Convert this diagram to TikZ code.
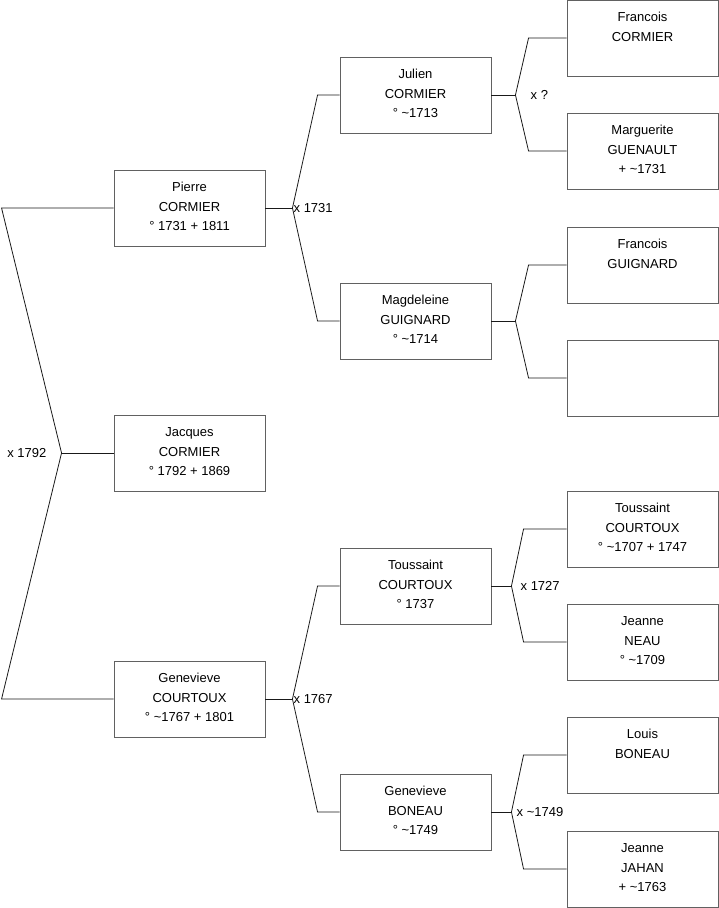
\documentclass[tikz,border=0pt]{standalone}
\usepackage{fontspec}
\setmainfont{Liberation Sans}
\usetikzlibrary{calc}

\begin{document}
\begin{tikzpicture}[
  x=1pt, y=-1pt,
  person/.style={draw=black!62, line width=0.9pt, minimum width=151pt, minimum height=76pt, inner sep=0pt,
    font=\fontsize{13}{19.5}\selectfont,
    execute at begin node={\begin{minipage}[t][60pt][t]{151pt}\centering\strut},
    execute at end node={\end{minipage}}},
  link/.style={draw=black!90, line width=0.8pt},
  union/.style={font=\fontsize{13}{15}\selectfont, inner sep=1pt}
]
\useasboundingbox (0,0) rectangle (719,908);

% generation 1
\node[person] (jacques) at (189.5,453) {Jacques\\CORMIER\\° 1792 + 1869};
% generation 2
\node[person] (pierre) at (189.5,208) {Pierre\\CORMIER\\° 1731 + 1811};
\node[person] (genevieve) at (189.5,699) {Genevieve\\COURTOUX\\° \textasciitilde1767 + 1801};
% generation 3
\node[person] (julien) at (415.5,95) {Julien\\CORMIER\\° \textasciitilde1713};
\node[person] (magdeleine) at (415.5,321) {Magdeleine\\GUIGNARD\\° \textasciitilde1714};
\node[person] (toussaint) at (415.5,586) {Toussaint\\COURTOUX\\° 1737};
\node[person] (boneau) at (415.5,812) {Genevieve\\BONEAU\\° \textasciitilde1749};
% generation 4
\node[person] (francoisC) at (642.5,38) {Francois\\CORMIER};
\node[person] (marguerite) at (642.5,151) {Marguerite\\GUENAULT\\+ \textasciitilde1731};
\node[person] (francoisG) at (642.5,265) {Francois\\GUIGNARD};
\node[person] (unknown) at (642.5,378) {};
\node[person] (toussaintC) at (642.5,529) {Toussaint\\COURTOUX\\° \textasciitilde1707 + 1747};
\node[person] (jeanneN) at (642.5,642) {Jeanne\\NEAU\\° \textasciitilde1709};
\node[person] (louis) at (642.5,755) {Louis\\BONEAU};
\node[person] (jeanneJ) at (642.5,869) {Jeanne\\JAHAN\\+ \textasciitilde1763};

% marriage joints
\coordinate (xJacques) at ($(jacques.west)+(-52,0)$);
\coordinate (xPierre) at ($(pierre.east)+(27,0)$);
\coordinate (xGenevieve) at ($(genevieve.east)+(27,0)$);
\coordinate (xJulien) at ($(julien.east)+(24,0)$);
\coordinate (xMagdeleine) at ($(magdeleine.east)+(24,0)$);
\coordinate (xToussaint) at ($(toussaint.east)+(20,0)$);
\coordinate (xBoneau) at ($(boneau.east)+(20,0)$);

\draw[link] (jacques.west) -- (xJacques);
\draw[link] (pierre.west) -- ++(-112,0) -- (xJacques);
\draw[link] (genevieve.west) -- ++(-112,0) -- (xJacques);

\draw[link] (pierre.east) -- (xPierre);
\draw[link] (julien.west) -- ++(-22,0) -- (xPierre);
\draw[link] (magdeleine.west) -- ++(-22,0) -- (xPierre);
\draw[link] (genevieve.east) -- (xGenevieve);
\draw[link] (toussaint.west) -- ++(-22,0) -- (xGenevieve);
\draw[link] (boneau.west) -- ++(-22,0) -- (xGenevieve);

\draw[link] (julien.east) -- (xJulien);
\draw[link] (francoisC.west) -- ++(-38,0) -- (xJulien);
\draw[link] (marguerite.west) -- ++(-38,0) -- (xJulien);
\draw[link] (magdeleine.east) -- (xMagdeleine);
\draw[link] (francoisG.west) -- ++(-38,0) -- (xMagdeleine);
\draw[link] (unknown.west) -- ++(-38,0) -- (xMagdeleine);
\draw[link] (toussaint.east) -- (xToussaint);
\draw[link] (toussaintC.west) -- ++(-43,0) -- (xToussaint);
\draw[link] (jeanneN.west) -- ++(-43,0) -- (xToussaint);
\draw[link] (boneau.east) -- (xBoneau);
\draw[link] (louis.west) -- ++(-43,0) -- (xBoneau);
\draw[link] (jeanneJ.west) -- ++(-43,0) -- (xBoneau);

% marriage dates
\node[union, anchor=east, xshift=-14pt] (mJacques) at (xJacques) {x 1792};
\node[union, anchor=west] (mPierre) at (xPierre) {x 1731};
\node[union, anchor=west] (mGenevieve) at (xGenevieve) {x 1767};
\node[union, anchor=west, xshift=14pt] (mJulien) at (xJulien) {x ?};
\node[union, anchor=west, xshift=8pt] (mToussaint) at (xToussaint) {x 1727};
\node[union, anchor=west, xshift=4pt] (mBoneau) at (xBoneau) {x \textasciitilde1749};
\end{tikzpicture}
\end{document}
